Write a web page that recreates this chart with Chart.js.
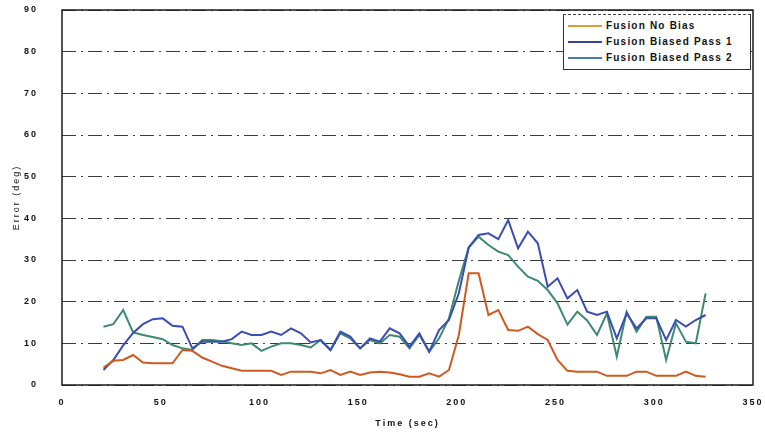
<!DOCTYPE html>
<html>
<head>
<meta charset="utf-8">
<script src="https://cdn.jsdelivr.net/npm/chart.js@4/dist/chart.umd.min.js"></script>
<style>
  html,body{margin:0;padding:0;background:#fff;}
  #wrap{position:relative;width:765px;height:433px;}
  #legend{position:absolute;left:563px;top:14px;width:188px;height:56px;border:1px solid #333;border-top:1px dashed #444;background:#fff;box-sizing:border-box;
    font-family:"Liberation Sans",Arial,sans-serif;font-weight:bold;font-size:10px;letter-spacing:1.2px;color:#111;}
  .row{position:absolute;left:4px;height:14px;line-height:14px;white-space:nowrap;}
  .sw{display:inline-block;width:34px;height:0;border-top:2px solid;vertical-align:middle;margin-right:4px;}
</style>
</head>
<body>
<div id="wrap">
  <canvas id="c" width="765" height="433"></canvas>
  <div id="legend"></div>
</div>
<script>
const times = [21,26,31,36,41,46,51,56,61,66,71,76,81,86,91,96,101,106,111,116,121,126,131,136,141,146,151,156,161,166,171,176,181,186,191,196,201,206,211,216,221,226,231,236,241,246,251,256,261,266,271,276,281,286,291,296,301,306,311,316,321,326];
const noBias = [4.2,5.8,6,7.2,5.4,5.2,5.2,5.2,8.4,8.2,6.6,5.6,4.6,4,3.4,3.4,3.4,3.4,2.4,3.2,3.2,3.2,2.8,3.6,2.4,3.2,2.4,3,3.2,3,2.6,2,2,2.8,2,3.6,12,26.8,26.8,16.8,18,13.2,13,14,12.2,10.8,6,3.4,3.2,3.2,3.2,2.2,2.2,2.2,3.2,3.2,2.2,2.2,2.2,3.2,2.2,2];
const biasedPass1 = [3.6,6,9.5,12.5,14.6,15.8,16,14.2,14,8.8,10.4,10.4,10.4,11,12.8,12,12,12.8,12,13.6,12.4,10.2,10.8,8.4,12.8,11.6,8.8,11.2,10.4,13.6,12.4,9.2,12.4,8,13.2,15.6,22,33,36,36.4,35,39.6,32.8,36.8,34,23.6,25.6,20.8,22.8,17.6,16.8,17.6,11.2,17.2,13.6,16,16,10.8,15.6,14,15.6,16.8];
const biasedPass2 = [14,14.6,18,12.6,12,11.5,11,9.6,8.8,8.4,10.8,10.8,10.5,10,9.6,10,8.2,9.2,10,10,9.6,9,10.8,8.4,12.4,11.2,8.8,10.8,10,12,11.6,8.8,12,8,11.2,16,25,33,35.6,33.6,32,31.2,28.4,26,25,22.8,19.6,14.5,17.6,15.5,12,17.2,6.8,17.6,12.8,16.4,16.4,6,14.8,10.4,10,22];
const seriesNames = ["Fusion No Bias","Fusion Biased Pass 1","Fusion Biased Pass 2"];
const seriesColors = ["#cc5a22","#3a4db5","#3d8a6e"];
const legendColors = ["#d9a03a","#34429e","#4a7aa8"];
const xTicks = [0,50,100,150,200,250,300,350];
const yTicks = [0,10,20,30,40,50,60,70,80,90];

const seriesValues = [noBias, biasedPass1, biasedPass2];
const datasets = seriesValues.map((vals,i)=>({
  label: seriesNames[i],
  data: times.map((t,k)=>({x:t,y:vals[k]})),
  borderColor: seriesColors[i],
  backgroundColor: seriesColors[i],
  borderWidth: 2,
  pointRadius: 0,
  tension: 0,
  fill: false
}));

const leg = document.getElementById('legend');
seriesNames.forEach((n,i)=>{
  const r = document.createElement('div');
  r.className='row';
  r.style.top = (4 + i*16) + 'px';
  r.innerHTML = '<span class="sw" style="border-color:'+legendColors[i]+'"></span>' + n;
  leg.appendChild(r);
});

const spacing = {
  id:'spacing',
  beforeLayout(chart){ chart.ctx.letterSpacing = '2px'; },
  beforeDraw(chart){ chart.ctx.letterSpacing = '2px'; }
};
const frame = {
  id:'frame',
  afterDatasetsDraw(chart){
    const {ctx, chartArea:a} = chart;
    ctx.save();
    ctx.strokeStyle = '#1a1a1a';
    ctx.lineWidth = 1.5;
    ctx.strokeRect(a.left, a.top, a.right-a.left, a.bottom-a.top);
    ctx.restore();
  }
};

const tickFont = {family:'"Liberation Sans", Arial, sans-serif', size:9, weight:'bold'};
new Chart(document.getElementById('c'), {
  type:'line',
  data:{datasets},
  plugins:[spacing, frame],
  options:{
    responsive:false,
    animation:false,
    layout:{padding:{top:10,right:12,left:0,bottom:0}},
    plugins:{legend:{display:false}, tooltip:{enabled:false}},
    scales:{
      x:{
        type:'linear', min:0, max:350,
        afterBuildTicks(s){ s.ticks = xTicks.map(v=>({value:v})); },
        afterFit(s){ s.height = 48; },
        grid:{display:true, color:'rgba(0,0,0,0)', drawTicks:true, tickLength:12, tickColor:'rgba(0,0,0,0)'},
        border:{display:false},
        ticks:{color:'#111', font:tickFont, padding:0, maxRotation:0, autoSkip:false},
        title:{display:true, text:'Time (sec)', color:'#111', font:tickFont, padding:{top:0,bottom:4}}
      },
      y:{
        min:0, max:90,
        afterBuildTicks(s){ s.ticks = yTicks.map(v=>({value:v})); },
        afterFit(s){ s.width = 62; },
        grid:{color:'#3a3a3a', lineWidth:1, drawTicks:true, tickLength:24, tickColor:'rgba(0,0,0,0)'},
        border:{display:false, dash:[14,5,2,5]},
        ticks:{color:'#111', font:tickFont, padding:0},
        title:{display:true, text:'Error (deg)', color:'#111', font:{family:'"Liberation Sans", Arial, sans-serif', size:9}, padding:{top:11,bottom:0}}
      }
    }
  }
});
</script>
</body>
</html>
